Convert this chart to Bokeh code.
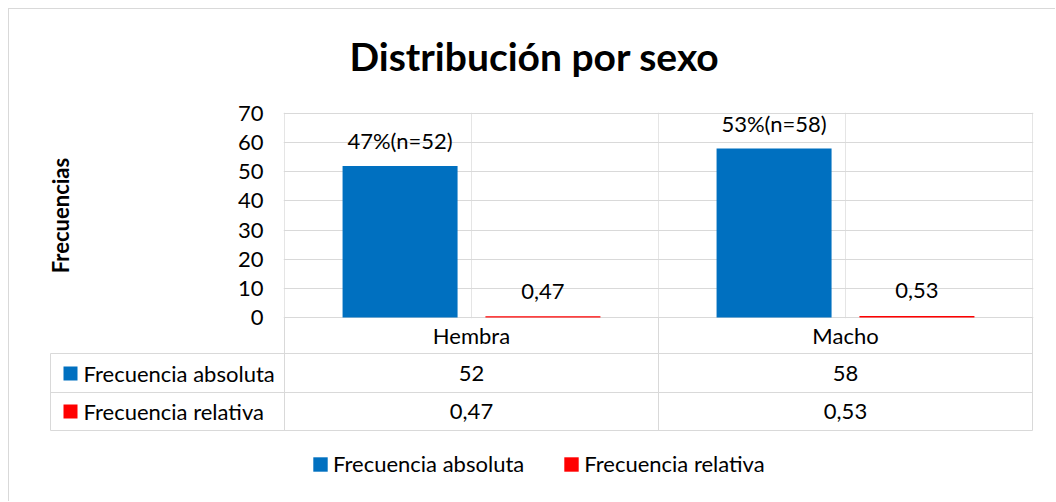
from bokeh.plotting import figure
from bokeh.models import Range1d, FixedTicker, ColumnDataSource, Legend, LegendItem
from bokeh.embed import file_html
from bokeh.resources import INLINE
from bokeh.core.properties import value

# ---------------- data ----------------
categories = ["Hembra", "Macho"]
series_names = ["Frecuencia absoluta", "Frecuencia relativa"]
freq_abs = [52, 58]
freq_rel = [0.47, 0.53]
y_ticks = [0, 10, 20, 30, 40, 50, 60, 70]
title_text = "Distribución por sexo"
y_label = "Frecuencias"

# ---------------- style ----------------
FONT = "Lato"
FS = "22px"
BLUE = "#0070C0"
RED = "#FF0000"
GRID = "#D9D9D9"
TXT = "#000000"
BORDER = "1px solid #D9D9D9"

PAGE_W, PAGE_H = 1056, 502
OX, OY = 9, 9                        # content origin (8px margin + 1px border)
CAT_L, CAT_R = 284, 1032             # page px of the category area
PPX = len(categories) / (CAT_R - CAT_L)
Y0_PX, Y70_PX = 318, 114
PPU = (Y0_PX - Y70_PX) / 70.0        # px per unit

def xd(px):
    return (px - CAT_L) * PPX

def yd(py):
    return (Y0_PX - py) / PPU

def fmt(v):
    return f"{v:.2f}".replace(".", ",")

W = PAGE_W - OX

# ================= title strip =================
T_BOTTOM = 100
pt = figure(width=W, height=T_BOTTOM - OY, toolbar_location=None, output_backend="svg",
            x_axis_location=None, y_axis_location=None, outline_line_color=None,
            x_range=Range1d(OX, PAGE_W), y_range=Range1d(T_BOTTOM, OY),
            min_border_left=0, min_border_right=0, min_border_top=0, min_border_bottom=0,
            margin=(8, 0, 0, 8), styles={"border-left": BORDER, "border-top": BORDER})
pt.grid.visible = False
pt.text(x=[534], y=[55], text=[title_text], text_align="center", text_baseline="middle",
        text_font=value(FONT), text_font_style="bold", text_font_size="39px", text_color=TXT)

# ================= chart =================
FL, FR, FT, FB = 283, 1033, 113, 319   # frame edges (page px)
C_BOTTOM = 331
p = figure(width=W, height=C_BOTTOM - T_BOTTOM, toolbar_location=None, output_backend="svg",
           x_axis_location=None, outline_line_color=None,
           x_range=Range1d(xd(FL), xd(FR)), y_range=Range1d(yd(FB), yd(FT)),
           min_border_left=FL - OX, min_border_right=PAGE_W - FR,
           min_border_top=FT - T_BOTTOM, min_border_bottom=C_BOTTOM - FB,
           margin=(0, 0, 0, 8), styles={"border-left": BORDER})

p.yaxis.ticker = FixedTicker(ticks=y_ticks)
p.yaxis.axis_line_color = None
p.yaxis.major_tick_line_color = None
p.yaxis.minor_tick_line_color = None
p.yaxis.major_tick_out = 0
p.yaxis.minor_tick_out = 0
p.yaxis.major_label_standoff = 20
p.yaxis.major_label_text_font = FONT
p.yaxis.major_label_text_font_size = FS
p.yaxis.major_label_text_color = TXT
p.yaxis.axis_label = y_label
p.yaxis.axis_label_text_font = FONT
p.yaxis.axis_label_text_font_size = FS
p.yaxis.axis_label_text_font_style = "bold"
p.yaxis.axis_label_text_color = TXT
p.yaxis.axis_label_standoff = 161
p.ygrid.grid_line_color = GRID
p.ygrid.grid_line_width = 1

OFF = 0.191
BW = 0.3075
xc = [i + 0.5 for i in range(len(categories))]
src = ColumnDataSource(dict(
    xa=[x - OFF for x in xc], xr=[x + OFF for x in xc],
    fa=freq_abs, fr=freq_rel,
    la=[f"{round(r * 100)}%(n={a})" for a, r in zip(freq_abs, freq_rel)],
    lr=[fmt(r) for r in freq_rel],
))
p.vbar(x="xa", top="fa", width=BW, source=src, fill_color=BLUE, line_color=None)
p.vbar(x="xr", top="fr", width=BW, source=src, fill_color=RED, line_color=None)
p.text(x="xa", y="fa", text="la", source=src, y_offset=-25, text_align="center",
       text_baseline="middle", text_font=value(FONT), text_font_size=FS, text_color=TXT)
p.text(x="xr", y="fr", text="lr", source=src, y_offset=-25, text_align="center",
       text_baseline="middle", text_font=value(FONT), text_font_size=FS, text_color=TXT)

# ================= data table + legend (overlaps the chart's bottom border) =================
B_TOP = Y0_PX
pb = figure(width=W, height=PAGE_H - B_TOP, toolbar_location=None, output_backend="svg",
            x_axis_location=None, y_axis_location=None, outline_line_color=None,
            x_range=Range1d(xd(OX), xd(PAGE_W)), y_range=Range1d(yd(PAGE_H), yd(B_TOP)),
            min_border_left=0, min_border_right=0, min_border_top=0, min_border_bottom=0,
            background_fill_alpha=0, border_fill_alpha=0,
            margin=(B_TOP - C_BOTTOM, 0, 0, 8), styles={"border-left": BORDER})
pb.grid.visible = False

bounds = list(range(len(categories) + 1))
LBL_L = xd(50)
row_lines = [354, 393, 431]
pb.segment(x0=[LBL_L] * 3, x1=[len(categories)] * 3, y0=[yd(y) for y in row_lines],
           y1=[yd(y) for y in row_lines], line_color=GRID, line_width=1)
pb.segment(x0=[LBL_L] + bounds, x1=[LBL_L] + bounds,
           y0=[yd(354)] + [0] * len(bounds), y1=[yd(431)] * (len(bounds) + 1),
           line_color=GRID, line_width=1)
pb.text(x=xc, y=[yd(336)] * len(xc), text=categories, text_align="center",
        text_baseline="middle", text_font=value(FONT), text_font_size=FS, text_color=TXT)

row_y = [374, 412]
keys = []
for k, (name, col) in enumerate(zip(series_names, [BLUE, RED])):
    r = pb.quad(left=[xd(63)], right=[xd(77)], top=[yd(row_y[k] - 7)],
                bottom=[yd(row_y[k] + 7)], fill_color=col, line_color=None)
    keys.append(r)
    pb.text(x=[xd(83)], y=[yd(row_y[k])], text=[name], text_align="left",
            text_baseline="middle", text_font=value(FONT), text_font_size=FS, text_color=TXT)
for vals, yy in ((freq_abs, row_y[0]), (freq_rel, row_y[1])):
    pb.text(x=xc, y=[yd(yy)] * len(xc),
            text=[str(v) if isinstance(v, int) else fmt(v) for v in vals],
            text_align="center", text_baseline="middle", text_font=value(FONT),
            text_font_size=FS, text_color=TXT)

leg = Legend(items=[LegendItem(label=n, renderers=[r]) for n, r in zip(series_names, keys)],
             orientation="horizontal", location=(311 - OX, PAGE_H - 478),
             glyph_width=18, glyph_height=18, label_standoff=4, spacing=38,
             padding=0, margin=0, border_line_color=None, background_fill_alpha=0,
             label_text_font=FONT, label_text_font_size=FS, label_text_color=TXT)
pb.add_layout(leg)

open("out.html", "w").write(file_html([pt, p, pb], INLINE))
